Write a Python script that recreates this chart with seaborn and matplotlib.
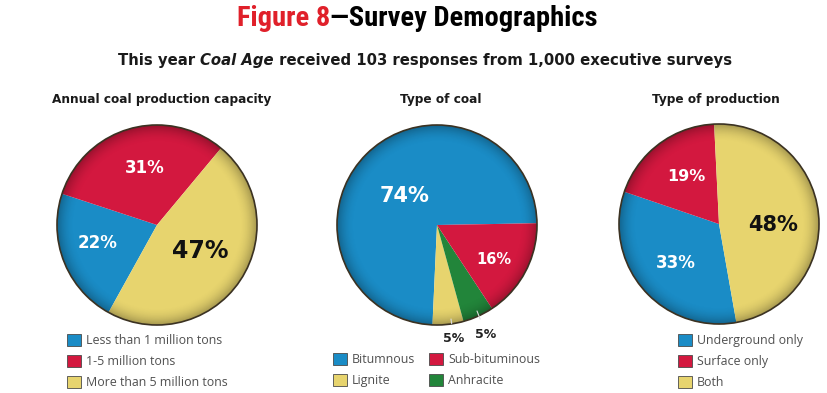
import numpy as np
import matplotlib
matplotlib.use("Agg")
import matplotlib.pyplot as plt
import seaborn as sns
from matplotlib.patches import Patch, Circle
from matplotlib import font_manager

sns.set_theme(style="white")
plt.rcParams['font.family'] = ['Open Sans', 'DejaVu Sans']

# ---- data ----
capacity_labels = ["Less than 1 million tons", "1-5 million tons", "More than 5 million tons"]
capacity_values = [22, 31, 47]

coal_labels = ["Bitumnous", "Lignite", "Anhracite", "Sub-bituminous"]
coal_values = [74, 5, 5, 16]

production_labels = ["Underground only", "Surface only", "Both"]
production_values = [33, 19, 48]

BLUE, RED, YELLOW, GREEN = "#1a8cc6", "#d3183f", "#e7d46e", "#22853a"
HEAD = ["DejaVu Sans"]

W, H = 827, 393
fig = plt.figure(figsize=(W / 100, H / 100), dpi=100)
fig.patch.set_facecolor("white")


def fx(px):
    return px / W


def fy(py):
    return 1 - py / H


def narrow_family():
    for fam in ["Liberation Sans Narrow", "Roboto Condensed", "Open Sans Condensed"]:
        try:
            font_manager.findfont(font_manager.FontProperties(family=fam),
                                  fallback_to_default=False)
            return [fam, "DejaVu Sans"]
        except Exception:
            pass
    return ["Liberation Sans", "DejaVu Sans"]


def run_text(parts, cx, cy, **common):
    """Lay out a row of differently styled strings centred on (cx, cy) in pixels."""
    fig.canvas.draw()
    r = fig.canvas.get_renderer()
    objs = []
    for s, kw in parts:
        t = fig.text(0, fy(cy), s, va="center", ha="left", **common, **kw)
        objs.append(t)
    widths = [t.get_window_extent(r).width for t in objs]
    x = cx - sum(widths) / 2
    for t, w in zip(objs, widths):
        t.set_x(fx(x))
        x += w


# ---- headings ----
tfam = narrow_family()
run_text([("Figure 8", dict(color="#e0202a")),
          ("\u2014Survey Demographics", dict(color="black"))],
         417, 19, fontsize=20.5, fontweight="bold", family=tfam)

run_text([("This year ", {}), ("Coal Age", dict(style="italic")),
          (" received 103 responses from 1,000 executive surveys", {})],
         425, 60, fontsize=10.7, fontweight="bold", color="#1a1a1a", family=HEAD)


def shaded_pie(cx, cy, values, colors, startangle, counterclock, title, tx):
    size = 220
    ax = fig.add_axes([fx(cx - size / 2), fy(cy + size / 2), size / W, size / H])
    ax.pie(values, colors=colors, startangle=startangle,
           counterclock=counterclock, radius=1.0,
           wedgeprops=dict(linewidth=0))
    # soft darkening towards the rim for a domed look
    g = np.linspace(-1, 1, 300)
    xx, yy = np.meshgrid(g, g)
    rr = np.sqrt(xx ** 2 + yy ** 2)
    shade = np.zeros((300, 300, 4))
    shade[..., 3] = 0.28 * np.clip((rr - 0.82) / 0.18, 0, 1) ** 2
    im = ax.imshow(shade, extent=(-1, 1, -1, 1), origin="lower", zorder=3)
    ax.add_patch(Circle((0, 0), 1.0, fill=False, ec="#3b3222", lw=1.2, zorder=4))
    im.set_clip_path(Circle((0, 0), 1.0, transform=ax.transData))
    ax.set_xlim(-1.1, 1.1)
    ax.set_ylim(-1.1, 1.1)
    ax.set_aspect("equal")
    ax.axis("off")
    fig.text(fx(tx), fy(99), title, ha="center", va="center",
             fontsize=8.7, fontweight="bold", color="#1a1a1a", family=HEAD)
    return ax


def pct(ax, v, x, y, color="white", size=12):
    ax.text(x, y, f"{v}%", ha="center", va="center", color=color,
            fontsize=size, fontweight="bold", family=HEAD, zorder=5)


# ---- pie 1: production capacity ----
ax1 = shaded_pie(157, 225, capacity_values, [BLUE, RED, YELLOW], 241, False,
                 "Annual coal production capacity", 162)
pct(ax1, capacity_values[1], -0.12, 0.57)
pct(ax1, capacity_values[0], -0.59, -0.18)
pct(ax1, capacity_values[2], 0.43, -0.26, color="#111111", size=17)

# ---- pie 2: type of coal ----
ax2 = shaded_pie(437, 225, coal_values, [BLUE, YELLOW, GREEN, RED], 1, True,
                 "Type of coal", 441)
pct(ax2, coal_values[0], -0.32, 0.29, size=15)
pct(ax2, coal_values[3], 0.57, -0.35, size=10.5)
for v, xy, xyt in [(coal_values[1], (0.14, -0.94), (0.17, -1.14)),
                   (coal_values[2], (0.40, -0.86), (0.49, -1.09))]:
    ax2.annotate(f"{v}%", xy=xy, xytext=xyt, ha="center", va="center",
                 fontsize=9, fontweight="bold", color="#222222", zorder=6,
                 family=HEAD, annotation_clip=False,
                 arrowprops=dict(arrowstyle="-", color="#dddddd", lw=0.8,
                                 shrinkA=4, shrinkB=0))

# ---- pie 3: type of production ----
ax3 = shaded_pie(719, 224, production_values, [BLUE, RED, YELLOW], 280, False,
                 "Type of production", 716)
pct(ax3, production_values[1], -0.33, 0.48, size=11.5)
pct(ax3, production_values[0], -0.43, -0.39)
pct(ax3, production_values[2], 0.54, -0.01, color="#111111", size=15)


# ---- legends ----
def handles(labels, colors):
    return [Patch(facecolor=c, edgecolor="#4a4a4a", lw=0.6, label=l)
            for l, c in zip(labels, colors)]


leg_kw = dict(frameon=False, loc="upper left", fontsize=8.9, handlelength=1.12,
              handleheight=1.12, handletextpad=0.42, labelspacing=0.62,
              borderpad=0, borderaxespad=0, labelcolor="#505050")

fig.legend(handles=handles(capacity_labels, [BLUE, RED, YELLOW]),
           bbox_to_anchor=(fx(67), fy(334)), **leg_kw)

coal_handles = handles(coal_labels, [BLUE, YELLOW, GREEN, RED])
fig.legend(handles=[coal_handles[0], coal_handles[1], coal_handles[3], coal_handles[2]],
           ncol=2, columnspacing=1.1,
           bbox_to_anchor=(fx(333), fy(353)), **leg_kw)

fig.legend(handles=handles(production_labels, [BLUE, RED, YELLOW]),
           bbox_to_anchor=(fx(678), fy(334)), **leg_kw)

fig.savefig("out.png", dpi=100, facecolor="white")
